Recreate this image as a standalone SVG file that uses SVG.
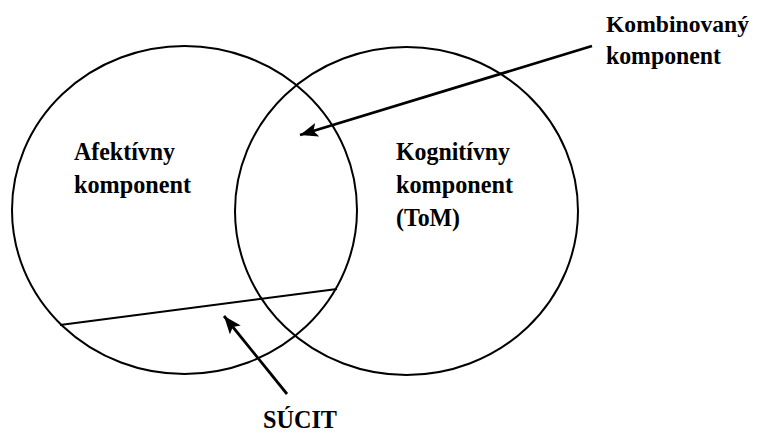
<svg xmlns="http://www.w3.org/2000/svg" width="757" height="434" viewBox="0 0 757 434">
<style>
.c{fill:none;stroke:#000;stroke-width:2}
.t{font-family:"Liberation Serif","DejaVu Serif","Times New Roman",serif;font-weight:bold;font-size:26px;fill:#000}
.s{font-size:24px}
.a{stroke:#000;stroke-width:2.8;fill:none;marker-end:url(#ah)}
</style>
<defs>
<marker id="ah" markerUnits="userSpaceOnUse" markerWidth="20" markerHeight="14" refX="18" refY="7" orient="auto">
<path d="M0,0 L18,7 L0,14 L4,7 Z" fill="#000"/>
</marker>
</defs>
<rect width="757" height="434" fill="#fff"/>
<g id="afektivny">
<ellipse class="c" cx="184.5" cy="210" rx="172.5" ry="164"/>
<text class="t" x="74" y="160" textLength="101" lengthAdjust="spacingAndGlyphs">Afektívny</text>
<text class="t" x="74" y="193" textLength="117" lengthAdjust="spacingAndGlyphs">komponent</text>
</g>
<g id="kognitivny">
<ellipse class="c" cx="406.5" cy="211" rx="171.5" ry="164"/>
<text class="t" x="396" y="160" textLength="114" lengthAdjust="spacingAndGlyphs">Kognitívny</text>
<text class="t" x="396" y="193" textLength="117" lengthAdjust="spacingAndGlyphs">komponent</text>
<text class="t" x="396" y="226" textLength="64" lengthAdjust="spacingAndGlyphs">(ToM)</text>
</g>
<g id="sucit-region">
<line x1="60" y1="325" x2="337" y2="289" stroke="#000" stroke-width="2"/>
</g>
<g id="kombinovany">
<text class="t s" x="606" y="32" textLength="143" lengthAdjust="spacingAndGlyphs">Kombinovaný</text>
<text class="t" x="606" y="64" textLength="115" lengthAdjust="spacingAndGlyphs">komponent</text>
</g>
<g id="sucit">
<text class="t" x="263" y="428" textLength="74" lengthAdjust="spacingAndGlyphs">SÚCIT</text>
</g>
<g id="connectors">
<line class="a" x1="592" y1="46" x2="300" y2="135"/>
<line class="a" x1="287" y1="394" x2="224" y2="316"/>
</g>
</svg>
